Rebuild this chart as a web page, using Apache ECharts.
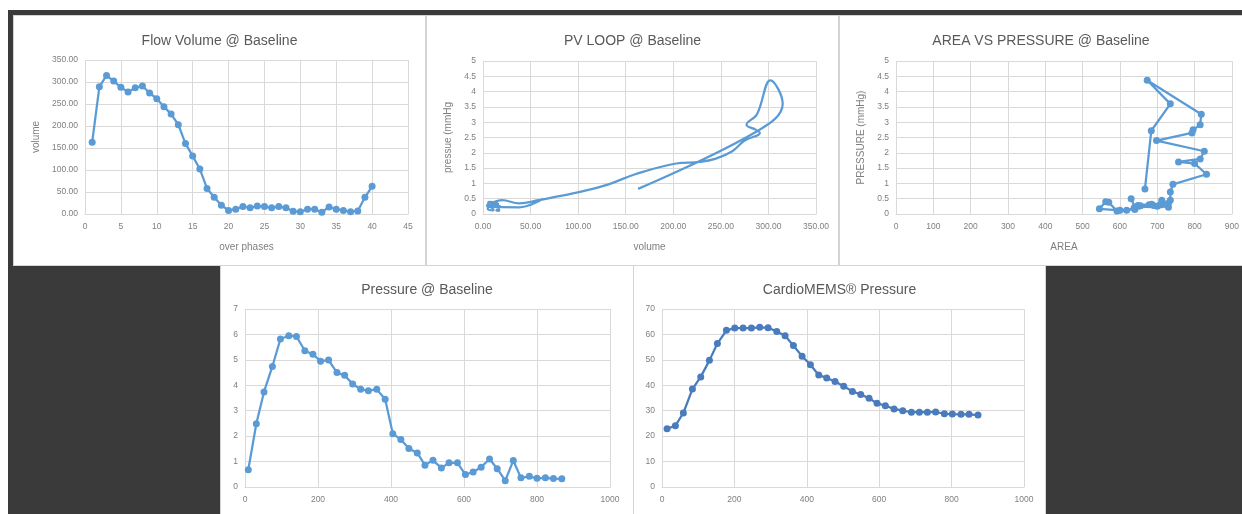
<!DOCTYPE html>
<html>
<head>
<meta charset="utf-8">
<script src="https://cdn.jsdelivr.net/npm/echarts@6/dist/echarts.min.js"></script>
<style>
  html, body { margin: 0; padding: 0; background: #fff; }
  body { width: 1242px; height: 514px; position: relative; overflow: hidden; }
  #back { position: absolute; left: 8px; top: 10px; width: 1234px; height: 504px; background: #3a3a3a; }
  .panel { position: absolute; background: #fff; box-sizing: border-box; border: 1px solid #d4d4d4; }
</style>
</head>
<body>
<div id="back"></div>
<div class="panel" id="c1" style="left:13px;top:15px;width:413px;height:251px"></div>
<div class="panel" id="c2" style="left:426px;top:15px;width:413px;height:251px"></div>
<div class="panel" id="c3" style="left:839px;top:15px;width:404px;height:251px"></div>
<div class="panel" id="c4" style="left:220px;top:265px;width:414px;height:250px"></div>
<div class="panel" id="c5" style="left:633px;top:265px;width:413px;height:250px"></div>
<script>
var phases = [1,2,3,4,5,6,7,8,9,10,11,12,13,14,15,16,17,18,19,20,21,22,23,24,25,26,27,28,29,30,31,32,33,34,35,36,37,38,39,40];
var flowVolume = [163,289,315,302,288,277,287,291,275,262,244,227,203,160,132,102,58,38,20,8,11,17,14,18,17,14,17,14,6,5,11,11,4,16,11,8,5,7,38,63];
// pressure per phase, shared by the PV loop and the area chart
var loopPressure = [0.82,2.72,3.6,4.37,3.26,2.92,2.75,2.65,2.40,2.05,1.80,1.70,1.65,1.30,0.97,0.72,0.45,0.35,0.45,0.30,0.28,0.30,0.27,0.25,0.20,0.12,0.10,0.38,0.40,0.17,0.12,0.15,0.28,0.32,0.30,0.22,0.30,0.25,0.22,0.50];
var areaValues = [667,684,735,673,818,815,796,793,698,826,815,757,800,832,742,735,735,730,712,708,690,678,655,650,638,618,592,570,562,545,600,640,648,685,712,730,725,700,640,630];
var pressureTimes = [9,31,52,75,97,120,141,164,186,207,229,252,273,295,317,338,361,384,405,427,449,472,493,515,538,559,582,604,625,647,670,691,713,735,756,779,800,823,845,868];
var pressureValues = [0.68,2.49,3.74,4.74,5.82,5.95,5.92,5.36,5.22,4.95,4.99,4.5,4.39,4.05,3.84,3.79,3.84,3.45,2.09,1.87,1.51,1.34,0.86,1.05,0.75,0.95,0.95,0.49,0.59,0.78,1.1,0.72,0.25,1.04,0.36,0.42,0.34,0.36,0.33,0.32];
var memsTimes = [14,37,59,84,107,131,153,178,201,224,247,270,293,317,340,363,387,410,433,455,478,502,526,549,572,594,617,641,665,689,711,733,756,780,802,826,848,873];
var memsValues = [22.9,24.1,29.1,38.5,43.3,49.8,56.4,61.6,62.5,62.5,62.5,62.8,62.6,61.2,59.5,55.6,51.4,48.1,44.0,42.9,41.5,39.6,37.6,36.4,34.9,32.9,32.0,30.7,30.0,29.4,29.4,29.4,29.5,28.8,28.7,28.6,28.6,28.3];

var blue = '#5b9bd5';
var gridColor = '#d9d9d9';
var labelColor = '#7f7f7f';
var font = 'Liberation Sans';

function pairs(xs, ys) {
    var out = [];
    for (var i = 0; i < xs.length; i++) out.push([xs[i], ys[i]]);
    return out;
}

function axis(min, max, step, digits, name, gap, isX) {
    return {
        type: 'value', min: min, max: max, interval: step,
        name: name || '', nameLocation: 'middle', nameGap: gap || 0,
        nameTextStyle: { color: labelColor, fontFamily: font, fontSize: 10 },
        axisLine: { show: isX, lineStyle: { color: gridColor } },
        axisTick: { show: false },
        axisLabel: {
            color: labelColor, fontFamily: font, fontSize: 8.5, margin: isX ? 8 : 7,
            formatter: function (v) { return digits ? v.toFixed(digits) : String(v); }
        },
        splitLine: { show: true, lineStyle: { color: gridColor } }
    };
}

function makeChart(id, o) {
    var chart = echarts.init(document.getElementById(id));
    chart.setOption({
        animation: false,
        title: {
            text: o.title, left: 'center', top: o.titleTop,
            textStyle: { color: '#595959', fontFamily: font, fontSize: 14, fontWeight: 'normal' }
        },
        grid: o.grid,
        xAxis: o.xAxis,
        yAxis: o.yAxis,
        series: [{
            type: 'line',
            data: o.data,
            smooth: o.smooth || false,
            showSymbol: o.symbol !== false,
            symbol: 'circle',
            symbolSize: 7,
            lineStyle: { color: o.color || blue, width: 2.25 },
            itemStyle: { color: o.color || blue },
            emphasis: { disabled: true }
        }]
    });
}

makeChart('c1', {
    title: 'Flow Volume @ Baseline', titleTop: 13,
    grid: { left: 71, right: 17, top: 44, bottom: 51 },
    xAxis: axis(0, 45, 5, 0, 'over phases', 28, true),
    yAxis: axis(0, 350, 50, 2, 'volume', 42, false),
    data: pairs(phases, flowVolume)
});

makeChart('c2', {
    title: 'PV LOOP @ Baseline', titleTop: 13,
    grid: { left: 56, right: 22, top: 45, bottom: 51 },
    xAxis: axis(0, 350, 50, 2, 'volume', 28, true),
    yAxis: axis(0, 5, 0.5, 0, 'pressue (mmHg', 26, false),
    data: pairs(flowVolume, loopPressure),
    smooth: 0.4, symbol: false
});

makeChart('c3', {
    title: 'AREA VS PRESSURE @ Baseline', titleTop: 13,
    grid: { left: 56, right: 9, top: 45, bottom: 51 },
    xAxis: axis(0, 900, 100, 0, 'AREA', 28, true),
    yAxis: axis(0, 5, 0.5, 0, 'PRESSURE (mmHg)', 26, false),
    data: pairs(areaValues, loopPressure)
});

makeChart('c4', {
    title: 'Pressure @ Baseline', titleTop: 12,
    grid: { left: 24, right: 23, top: 43, bottom: 27 },
    xAxis: axis(0, 1000, 200, 0, '', 0, true),
    yAxis: axis(0, 7, 1, 0, '', 0, false),
    data: pairs(pressureTimes, pressureValues)
});

makeChart('c5', {
    title: 'CardioMEMS® Pressure', titleTop: 12,
    grid: { left: 28, right: 21, top: 43, bottom: 27 },
    xAxis: axis(0, 1000, 200, 0, '', 0, true),
    yAxis: axis(0, 70, 10, 0, '', 0, false),
    data: pairs(memsTimes, memsValues),
    color: '#4a7bbd'
});
</script>
</body>
</html>
